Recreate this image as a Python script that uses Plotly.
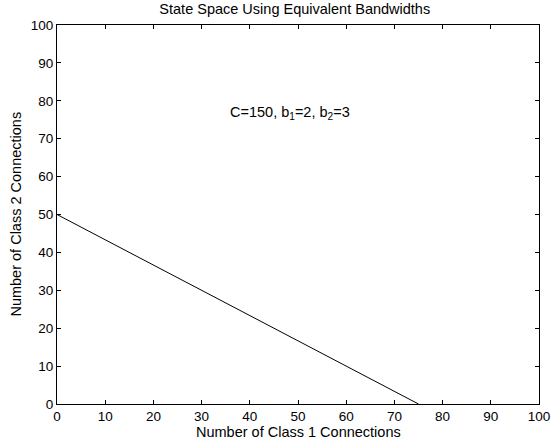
import plotly.graph_objects as go

x_vals = [0, 75]
y_vals = [50, 0]
ticks = [0, 10, 20, 30, 40, 50, 60, 70, 80, 90, 100]

FONT = "Liberation Sans, Arial"
FS_TICK = 13.5
FS_TEXT = 14.5

axis_common = dict(range=[0, 100], tickvals=ticks, ticks="inside", ticklen=4,
                   tickcolor="black", showline=True, linecolor="black", linewidth=1,
                   mirror="ticks", showgrid=False, zeroline=False, automargin=False,
                   tickfont=dict(family=FONT, size=FS_TICK, color="black"))

fig = go.Figure()
fig.add_trace(go.Scatter(x=x_vals, y=y_vals, mode="lines",
                         line=dict(color="black", width=1), showlegend=False))

txt = dict(family=FONT, size=FS_TEXT, color="black")

fig.update_layout(
    width=552, height=448,
    margin=dict(l=57, r=13, t=25, b=44),
    paper_bgcolor="white", plot_bgcolor="white",
    title=dict(text="State Space Using Equivalent Bandwidths", x=0.534, xanchor="center",
               y=0.98, yanchor="middle", font=txt),
    xaxis=dict(**axis_common),
    yaxis=dict(**axis_common),
    annotations=[
        dict(x=35.5, y=76.8, xref="x", yref="y", xanchor="left", yanchor="middle",
             text="C=150, b<sub>1</sub>=2, b<sub>2</sub>=3", showarrow=False, font=txt),
        dict(x=0.5, y=-0.074, xref="paper", yref="paper", xanchor="center", yanchor="middle",
             text="Number of Class 1 Connections", showarrow=False, font=txt),
        dict(x=-0.087, y=0.5, xref="paper", yref="paper", xanchor="center", yanchor="middle",
             text="Number of Class 2 Connections", textangle=-90, showarrow=False, font=txt),
    ],
)

fig.write_html("out.html")
